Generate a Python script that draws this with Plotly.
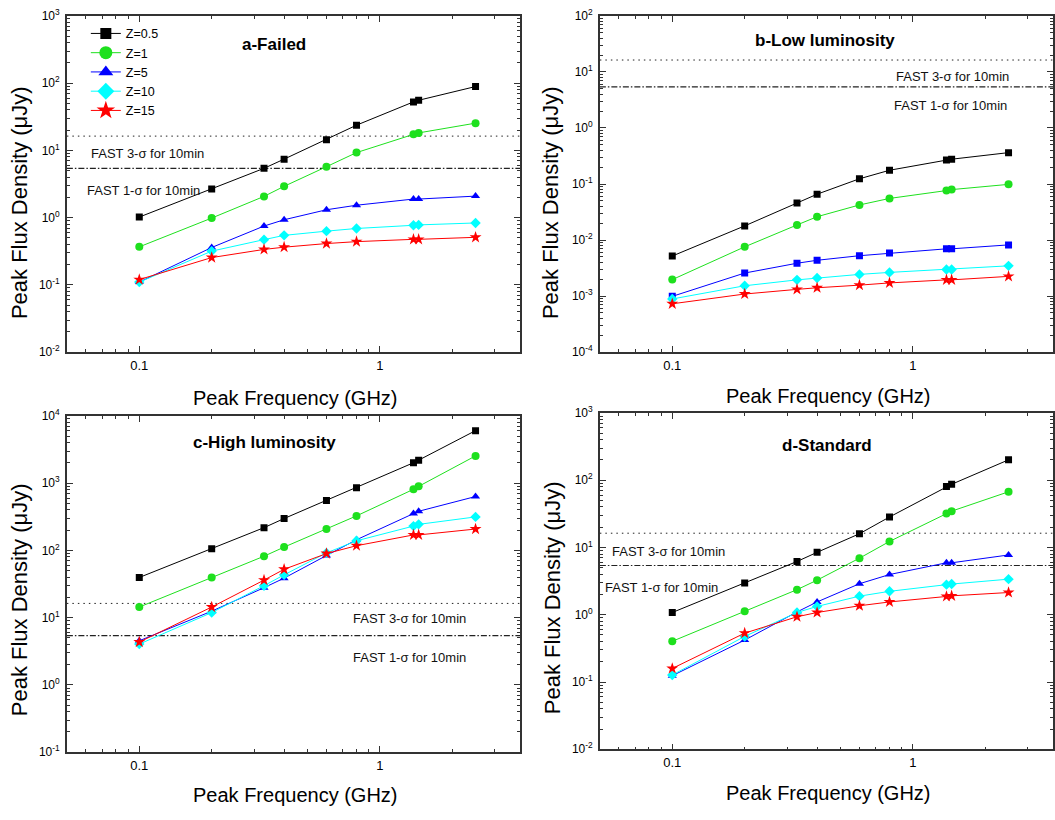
import plotly.graph_objects as go

# ---------------- data ----------------
freq = [0.1, 0.2, 0.33, 0.4, 0.6, 0.8, 1.38, 1.45, 2.5]
series_names = ["Z=0.5", "Z=1", "Z=5", "Z=10", "Z=15"]

a_z05 = [1.02, 2.67, 5.41, 7.41, 14.4, 23.7, 52.6, 55.6, 89]
a_z1 = [0.368, 0.986, 2.07, 2.92, 5.72, 9.27, 17.3, 18.2, 25.4]
a_z5 = [0.11, 0.36, 0.75, 0.93, 1.31, 1.53, 1.89, 1.89, 2.09]
a_z10 = [0.11, 0.318, 0.471, 0.545, 0.63, 0.69, 0.77, 0.78, 0.834]
a_z15 = [0.12, 0.255, 0.337, 0.364, 0.412, 0.44, 0.476, 0.476, 0.51]

b_z05 = [5.19e-3, 1.79e-2, 4.58e-2, 6.58e-2, 0.124, 0.176, 0.267, 0.277, 0.363]
b_z1 = [1.97e-3, 7.57e-3, 1.86e-2, 2.61e-2, 4.23e-2, 5.53e-2, 7.64e-2, 7.95e-2, 9.86e-2]
b_z5 = [9.9e-4, 2.58e-3, 3.86e-3, 4.36e-3, 5.26e-3, 5.86e-3, 6.98e-3, 6.98e-3, 8.2e-3]
b_z10 = [8.9e-4, 1.53e-3, 1.95e-3, 2.11e-3, 2.44e-3, 2.65e-3, 2.99e-3, 2.99e-3, 3.47e-3]
b_z15 = [7.3e-4, 1.09e-3, 1.32e-3, 1.41e-3, 1.57e-3, 1.72e-3, 1.95e-3, 1.95e-3, 2.25e-3]

c_z05 = [39.6, 106, 218, 298, 553, 857, 2011, 2198, 6040]
c_z1 = [14.4, 39.6, 82, 112, 208, 326, 810, 896, 2543]
c_z5 = [4.54, 12.5, 27.9, 38.7, 84, 144, 353, 382, 633]
c_z10 = [4.05, 11.9, 29.9, 43.3, 91.8, 139, 230, 244, 315]
c_z15 = [4.34, 14.4, 36.2, 52.4, 89.8, 117.5, 170, 170, 208]

d_z05 = [1.08, 2.96, 6.19, 8.47, 16.0, 28.4, 80.5, 87, 201]
d_z1 = [0.403, 1.13, 2.36, 3.27, 6.93, 12.3, 32.1, 34.7, 67.3]
d_z5 = [0.124, 0.42, 1.10, 1.55, 2.89, 3.96, 5.92, 5.92, 7.74]
d_z10 = [0.127, 0.476, 1.08, 1.33, 1.89, 2.23, 2.8, 2.86, 3.38]
d_z15 = [0.159, 0.533, 0.933, 1.08, 1.36, 1.55, 1.87, 1.91, 2.14]

sigma1 = 5.4    # FAST 1-sigma for 10 min (uJy)
sigma3 = 16.3   # FAST 3-sigma for 10 min (uJy)

x_tickvals = [0.1, 1]
x_ticktext = ["0.1", "1"]
x_minor = [0.06, 0.07, 0.08, 0.09, 0.2, 0.3, 0.4, 0.5, 0.6, 0.7, 0.8, 0.9, 2, 3, 4]

# ---------------- style ----------------
W, H = 1055, 820
FONT = "Arial, Liberation Sans, sans-serif"
colors = ["#000000", "#1EE01E", "#0000FF", "#00FFFF", "#FF0000"]
symbols = ["square", "circle", "triangle-up", "diamond", "star"]
sizes = [7, 8, 8, 8, 9]
AX = "#333333"


def fx(p):
    return p / W


def fy(p):
    return 1 - p / H


panels = [
    dict(title="a-Failed", data=[a_z05, a_z1, a_z5, a_z10, a_z15], yr=(-2, 3),
         xd=(67, 521), yd=(7, 350), sym5="triangle-up",
         tpos=(275, 36), s3=(89, 147), s1=(85, 185),
         ytit=(19, 197), xtit=(296, 397)),
    dict(title="b-Low luminosity", data=[b_z05, b_z1, b_z5, b_z10, b_z15], yr=(-4, 2),
         xd=(601, 1055), yd=(7, 350), sym5="square",
         tpos=(827, 32), s3=(896, 69), s1=(894, 98),
         ytit=(551, 197), xtit=(830, 395)),
    dict(title="c-High luminosity", data=[c_z05, c_z1, c_z5, c_z10, c_z15], yr=(-1, 4),
         xd=(67, 521), yd=(415, 758), sym5="triangle-up",
         tpos=(265, 442), s3=(352, 622), s1=(352, 661),
         ytit=(19, 602), xtit=(296, 802)),
    dict(title="d-Standard", data=[d_z05, d_z1, d_z5, d_z10, d_z15], yr=(-2, 3),
         xd=(601, 1055), yd=(412, 755), sym5="triangle-up",
         tpos=(829, 445), s3=(611, 553), s1=(604, 590),
         ytit=(553, 600), xtit=(830, 800)),
]

fig = go.Figure()
annotations = []
layout_axes = {}


def ann(text, pos, size, xanchor="center", bold=False, angle=0, color="#000"):
    return dict(text=f"<b>{text}</b>" if bold else text,
                x=fx(pos[0]), y=fy(pos[1]), xref="paper", yref="paper",
                xanchor=xanchor, yanchor="middle", textangle=angle, showarrow=False,
                font=dict(family=FONT, size=size, color=color))


for i, p in enumerate(panels, start=1):
    xa = "x" if i == 1 else f"x{i}"
    ya = "y" if i == 1 else f"y{i}"
    xname = "xaxis" if i == 1 else f"xaxis{i}"
    yname = "yaxis" if i == 1 else f"yaxis{i}"

    # threshold lines
    fig.add_trace(go.Scatter(x=[0.05, 4], y=[sigma3, sigma3], mode="lines",
                             line=dict(color="#222222", width=1, dash="1.5px,4px"),
                             xaxis=xa, yaxis=ya, showlegend=False, hoverinfo="skip"))
    fig.add_trace(go.Scatter(x=[0.05, 4], y=[sigma1, sigma1], mode="lines",
                             line=dict(color="#222222", width=1.2, dash="6px,2px,1.5px,2px"),
                             xaxis=xa, yaxis=ya, showlegend=False, hoverinfo="skip"))

    for k, vals in enumerate(p["data"]):
        sym = symbols[k]
        if k == 2:
            sym = p["sym5"]
        sz = sizes[k] if sym != "square" else 7
        fig.add_trace(go.Scatter(
            x=freq, y=vals, mode="lines+markers", name=series_names[k],
            line=dict(color=colors[k], width=1),
            marker=dict(symbol=sym, size=sz, color=colors[k], line=dict(width=0)),
            xaxis=xa, yaxis=ya, showlegend=False))

    lo, hi = p["yr"]
    y_tickvals = [10.0 ** e for e in range(lo, hi + 1)]
    y_ticktext = [f"10<sup>{e}</sup>" for e in range(lo, hi + 1)]
    y_minor = [m * 10.0 ** e for e in range(lo, hi) for m in range(2, 10)]

    x0, x1 = p["xd"]
    xrange_hi = -1.30103 + (x1 - x0) / 241.0
    layout_axes[xname] = dict(
        type="log", domain=[fx(x0), fx(x1)], range=[-1.30103, xrange_hi],
        anchor=ya, showline=True, linecolor=AX, linewidth=1.5, mirror="ticks",
        ticks="inside", ticklen=6, tickwidth=1, tickcolor=AX,
        tickmode="array", tickvals=x_tickvals, ticktext=x_ticktext,
        tickfont=dict(family=FONT, size=13, color="#000"),
        showgrid=False, zeroline=False,
        minor=dict(ticks="inside", ticklen=3, tickwidth=1, tickcolor=AX,
                   tickmode="array", tickvals=x_minor, showgrid=False),
    )
    y0, y1 = p["yd"]
    layout_axes[yname] = dict(
        type="log", domain=[fy(y1), fy(y0)], range=[lo, hi],
        anchor=xa, showline=True, linecolor=AX, linewidth=1.5, mirror="ticks",
        ticks="inside", ticklen=6, tickwidth=1, tickcolor=AX,
        tickmode="array", tickvals=y_tickvals, ticktext=y_ticktext,
        tickfont=dict(family=FONT, size=12, color="#000"), ticklabelstandoff=3,
        showgrid=False, zeroline=False,
        minor=dict(ticks="inside", ticklen=3, tickwidth=1, tickcolor=AX,
                   tickmode="array", tickvals=y_minor, showgrid=False),
    )

    annotations.append(ann(p["title"], p["tpos"], 17, bold=True))
    annotations.append(ann("FAST 3-σ for 10min", p["s3"], 13, xanchor="left", color="#111"))
    annotations.append(ann("FAST 1-σ for 10min", p["s1"], 13, xanchor="left", color="#111"))
    annotations.append(ann("Peak Flux Density (μJy)", p["ytit"], 22, angle=-90))
    annotations.append(ann("Peak Frequency (GHz)", p["xtit"], 20))

# legend-only entries (panel a)
leg_sizes = [11, 13, 13, 13, 14]
for k in range(5):
    fig.add_trace(go.Scatter(
        x=[None], y=[None], mode="lines+markers", name=series_names[k],
        line=dict(color=colors[k], width=1),
        marker=dict(symbol=symbols[k], size=leg_sizes[k], color=colors[k], line=dict(width=0)),
        xaxis="x", yaxis="y", showlegend=True))

fig.update_layout(
    width=W, height=H,
    margin=dict(l=0, r=0, t=0, b=0),
    paper_bgcolor="white", plot_bgcolor="white",
    font=dict(family=FONT, size=13, color="#000"),
    showlegend=True,
    legend=dict(x=fx(86), y=fy(10), xanchor="left", yanchor="top",
                bgcolor="rgba(0,0,0,0)", font=dict(family=FONT, size=12.5),
                itemwidth=30, tracegroupgap=0, traceorder="normal"),
    annotations=annotations,
    **layout_axes,
)

fig.write_html("out.html", post_script="document.body.style.margin='0';",
               config={"displayModeBar": False})
